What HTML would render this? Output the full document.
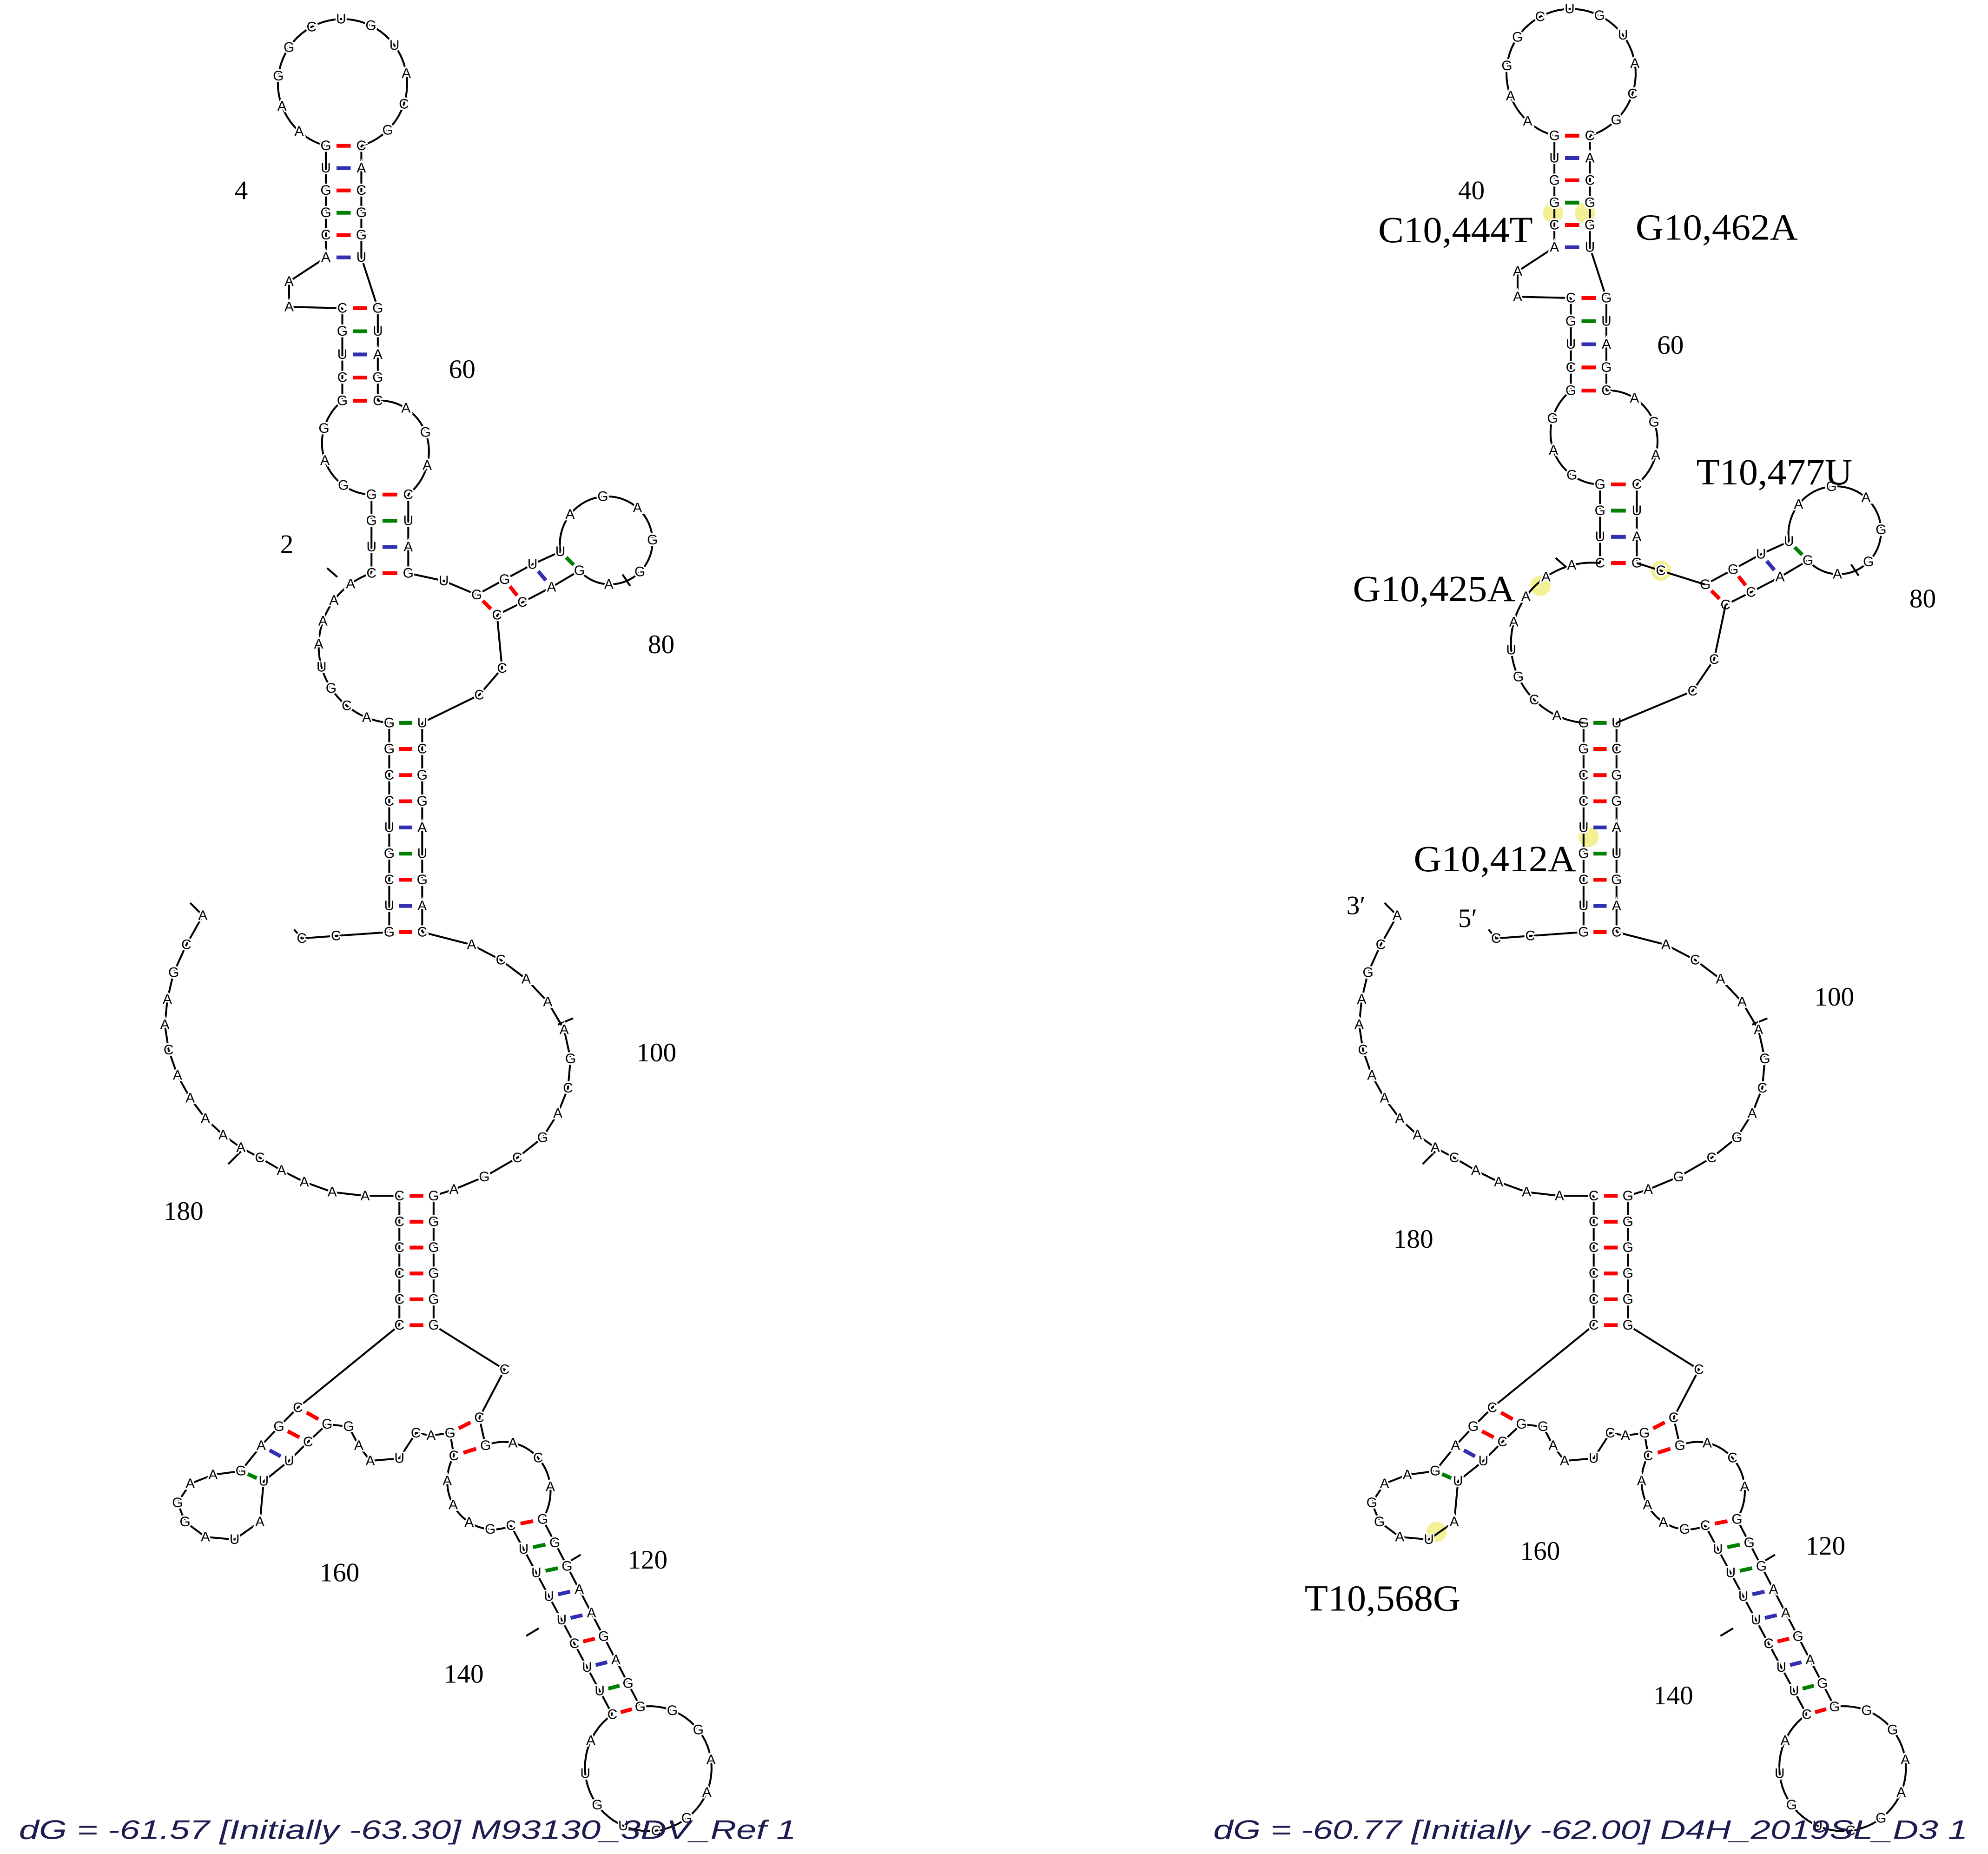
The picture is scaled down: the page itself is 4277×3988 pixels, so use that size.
<!DOCTYPE html>
<html><head><meta charset="utf-8"><style>
html,body{margin:0;padding:0;background:#fff;width:4277px;height:3988px;overflow:hidden}
svg{display:block}
.nt{font-family:"Liberation Sans",sans-serif;font-size:11px;fill:#000;stroke:#fff;stroke-width:2.5px;paint-order:stroke;text-anchor:middle;dominant-baseline:central}
.lbl{font-family:"Liberation Serif",serif;font-size:21px;fill:#000}
.big{font-family:"Liberation Serif",serif;font-size:29px;fill:#000}
.dg{font-family:"Liberation Sans",sans-serif;font-size:21px;font-style:italic;fill:#1c1c50}
</style></head><body>
<svg id="s" width="4277" height="3988" viewBox="0 0 1568 1462" preserveAspectRatio="none" xmlns="http://www.w3.org/2000/svg">
<g id="hl" fill="#f3ef8a" opacity="0.9">
<circle cx="1225" cy="168" r="8"/><circle cx="1250" cy="168" r="8"/><circle cx="1215" cy="462" r="8"/><circle cx="1310" cy="450" r="8"/><circle cx="1253" cy="660" r="8"/><circle cx="1133" cy="1208" r="8"/>
</g>
<g id="L"></g><g id="R1" transform="translate(969,-8)"></g><g id="R2" transform="translate(942,0)"></g><g id="R3"></g>
<text class="lbl" x="185" y="157">4</text>
<text class="lbl" x="354" y="298">60</text>
<text class="lbl" x="221" y="436">2</text>
<text class="lbl" x="511" y="515">80</text>
<text class="lbl" x="502" y="837">100</text>
<text class="lbl" x="129" y="962">180</text>
<text class="lbl" x="252" y="1247">160</text>
<text class="lbl" x="495" y="1237">120</text>
<text class="lbl" x="350" y="1327">140</text>
<text class="dg" x="15" y="1450" textLength="613" lengthAdjust="spacingAndGlyphs">dG = -61.57 [Initially -63.30] M93130_3DV_Ref 1</text>
<text class="lbl" x="1150" y="157">40</text>
<text class="big" x="1087" y="191" textLength="122" lengthAdjust="spacingAndGlyphs">C10,444T</text>
<text class="big" x="1290" y="189" textLength="128" lengthAdjust="spacingAndGlyphs">G10,462A</text>
<text class="lbl" x="1307" y="279">60</text>
<text class="big" x="1338" y="382" textLength="123" lengthAdjust="spacingAndGlyphs">T10,477U</text>
<text class="big" x="1067" y="474" textLength="128" lengthAdjust="spacingAndGlyphs">G10,425A</text>
<text class="lbl" x="1506" y="479">80</text>
<text class="big" x="1115" y="687" textLength="128" lengthAdjust="spacingAndGlyphs">G10,412A</text>
<text class="lbl" x="1062" y="721">3′</text>
<text class="lbl" x="1150" y="731">5′</text>
<text class="lbl" x="1431" y="793">100</text>
<text class="lbl" x="1099" y="984">180</text>
<text class="lbl" x="1199" y="1230">160</text>
<text class="lbl" x="1424" y="1226">120</text>
<text class="lbl" x="1304" y="1344">140</text>
<text class="big" x="1029" y="1270" textLength="123" lengthAdjust="spacingAndGlyphs">T10,568G</text>
<text class="dg" x="957" y="1450" textLength="595" lengthAdjust="spacingAndGlyphs">dG = -60.77 [Initially -62.00] D4H_2019SL_D3 1</text>
</svg>
<script>
(function(){
const NS="http://www.w3.org/2000/svg";
function mk(t,a,p){const e=document.createElementNS(NS,t);for(const k in a)e.setAttribute(k,a[k]);p.appendChild(e);return e;}
let Lines=[],Bars=[],Nts=[];
function line(pts){Lines.push(pts);}
function nt(x,y,c){Nts.push([x,y,c]);}
function chain(list){line(list.map(q=>[q[0],q[1]]));list.forEach(q=>{if(q[2])nt(q[0],q[1],q[2]);});}
function col(a,b){const s=a+b;if(s=="GC"||s=="CG")return"#f00";if(s=="AU"||s=="UA")return"#3030b0";return"#008000";}
function stem(p){const l=[],r=[];p.forEach(q=>{l.push([q[0],q[1]]);r.push([q[3],q[4]]);nt(q[0],q[1],q[2]);nt(q[3],q[4],q[5]);Bars.push([q[0],q[1],q[3],q[4],col(q[2],q[5])]);});line(l);line(r);}
function vstem(xl,xr,y0,y1,L,R){const n=L.length,p=[];for(let i=0;i<n;i++){const y=y0+(y1-y0)*i/(n-1);p.push([xl,y,L[i],xr,y,R[i]]);}stem(p);}
function dstem(a0,a1,b0,b1,L,R){const n=L.length,p=[];for(let i=0;i<n;i++){const t=i/(n-1);p.push([a0[0]+(a1[0]-a0[0])*t,a0[1]+(a1[1]-a0[1])*t,L[i],b0[0]+(b1[0]-b0[0])*t,b0[1]+(b1[1]-b0[1])*t,R[i]]);}stem(p);}
function arc(cx,cy,p0,p1,dir,letters,ex,ey){ex=ex||1;ey=ey||1;
 const a0=Math.atan2((p0[1]-cy)/ey,(p0[0]-cx)/ex),r0=Math.hypot((p0[0]-cx)/ex,(p0[1]-cy)/ey);
 let a1=Math.atan2((p1[1]-cy)/ey,(p1[0]-cx)/ex);const r1=Math.hypot((p1[0]-cx)/ex,(p1[1]-cy)/ey);
 if(dir>0){while(a1<=a0)a1+=2*Math.PI;}else{while(a1>=a0)a1-=2*Math.PI;}
 const f=t=>{const a=a0+(a1-a0)*t,r=r0+(r1-r0)*t;return[cx+ex*r*Math.cos(a),cy+ey*r*Math.sin(a)];};
 const pts=[];for(let i=0;i<=60;i++)pts.push(f(i/60));line(pts);
 const n=letters.length;for(let i=0;i<n;i++){const q=f((i+1)/(n+1));nt(q[0],q[1],letters[i]);}}
function flush(g){
 Lines.forEach(p=>mk("polyline",{points:p.map(q=>q.join(",")).join(" "),fill:"none",stroke:"#000","stroke-width":1.5},g));
 Bars.forEach(b=>{const dx=b[2]-b[0],dy=b[3]-b[1];mk("line",{x1:b[0]+dx*.3,y1:b[1]+dy*.3,x2:b[2]-dx*.3,y2:b[3]-dy*.3,stroke:b[4],"stroke-width":3},g);});
 Nts.forEach(n=>{const t=mk("text",{x:n[0],y:n[1],"class":"nt"},g);t.textContent=n[2];});
 Lines=[];Bars=[];Nts=[];}
function drawTop(){
 vstem(257,285,115,203,"GUGGCA","CACGGU");
 arc(270,66,[257,115],[285,115],1,"AAGGCUGUACG");
 line([[257,203],[228,222],[228,242],[270,243]]);nt(228,222,"A");nt(228,242,"A");
 line([[285,203],[298,243]]);
 vstem(270,298,243,316,"CGUCG","GUAGC");
 arc(296,352,[270,316],[293,390],-1,"GAG");
 arc(296,352,[298,316],[322,390],1,"AGA");
 vstem(293,322,390,452,"GGUC","CUAG");
 stem([[376,469,"G",392,485,"C"],[398,457,"G",412,475,"C"],[420,445,"U",435,463,"A"],[442,435,"U",457,450,"G"]]);
 arc(480,428,[442,435],[457,450],1,"AGAGGA");
 line([[266,455],[258,448]]);line([[491,453],[497,462]]);
}
function drawML(){
 line([[322,452],[350,458],[376,469]]);nt(350,458,"U");
 arc(312,510,[293,452],[307,570],-1,"AAAAUGCA");
 line([[392,485],[396,527],[378,548],[333,570]]);nt(396,527,"C");nt(378,548,"C");
}
function drawBottom(){
 vstem(307,333,570,735,"GGCCUGCUG","UCGGAUGAC");
 line([[232,733],[238,740],[265,738],[307,735]]);nt(238,740,"C");nt(265,738,"C");
 chain([[333,735],[372,745,"A"],[395,757,"C"],[415,772,"A"],[432,790,"A"],[445,812,"A"],[450,835,"G"],[448,858,"C"],[440,878,"A"],[428,897,"G"],[408,913,"C"],[382,928,"G"],[358,938,"A"],[342,943]]);
 chain([[315,943],[288,943,"A"],[262,940,"A"],[240,932,"A"],[222,923,"A"],[205,913,"C"],[190,905,"A"],[176,895,"A"],[162,882,"A"],[150,866,"A"],[140,848,"A"],[133,828,"C"],[130,808,"A"],[132,788,"A"],[137,767,"G"],[147,745,"C"],[160,722,"A"],[150,712]]);
 line([[440,808],[452,803]]);line([[190,908],[180,918]]);
 vstem(315,342,943,1045,"CCCCCC","GGGGGG");
 line([[315,1045],[235,1110]]);
 stem([[235,1110,"C",258,1123,"G"],[220,1125,"G",243,1137,"C"],[206,1140,"A",228,1152,"U"],[190,1160,"G",208,1168,"U"]]);
 chain([[190,1160],[168,1163,"A"],[150,1170,"A"],[140,1185,"G"],[146,1200,"G"],[162,1212,"A"],[185,1214,"U"],[205,1200,"A"],[208,1168]]);
 line([[258,1123],[275,1125],[283,1140],[292,1152],[315,1150],[328,1130],[340,1132],[355,1130]]);
 nt(275,1125,"G");nt(283,1140,"A");nt(292,1152,"A");nt(315,1150,"U");nt(328,1130,"C");nt(340,1132,"A");
 line([[342,1045],[398,1080],[378,1118]]);nt(398,1080,"C");
 stem([[355,1130,"G",378,1118,"C"],[358,1148,"C",383,1140,"G"]]);
 arc(393,1172,[358,1148],[403,1203],-1,"AAAG");
 arc(393,1172,[383,1140],[428,1198],1,"ACA");
 dstem([403,1203],[483,1352],[428,1198],[505,1346],"CUUUUCUUC","GGGAAGAGG");
 arc(512,1394,[483,1352],[505,1346],-1,"AUGUCGAAGG");
 line([[448,1232],[458,1226]]);line([[415,1290],[425,1284]]);
}
drawTop();drawML();drawBottom();flush(document.getElementById("L"));
drawTop();flush(document.getElementById("R1"));
drawBottom();flush(document.getElementById("R2"));
line([[1291,444],[1310,450],[1345,461]]);nt(1310,450,"C");
arc(1255,508,[1262,444],[1249,570],-1,"AAAAUGCA");
line([[1361,477],[1352,520],[1335,545],[1275,570]]);nt(1352,520,"C");nt(1335,545,"C");
flush(document.getElementById("R3"));
})();
</script>
</body></html>
